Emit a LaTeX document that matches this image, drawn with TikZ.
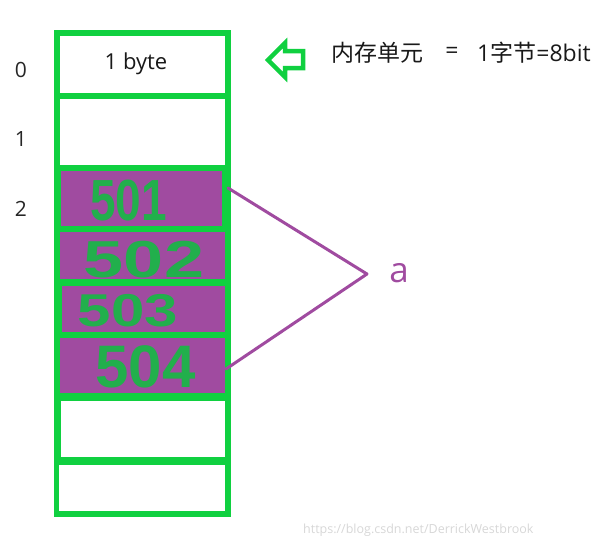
\documentclass[tikz,border=0pt]{standalone}
\usepackage{fontspec}
\setmainfont{Open Sans}
\newfontfamily\cjk{Noto Sans CJK SC}
\newfontfamily\handfont{Liberation Sans}
\definecolor{gframe}{RGB}{16,208,64}
\definecolor{pcell}{RGB}{160,75,160}
\definecolor{hgreen}{RGB}{34,175,76}
\definecolor{wmark}{RGB}{215,215,215}
\begin{document}
\begin{tikzpicture}[x=1pt,y=-1pt,
  cellw/.style={fill=white,draw=none,inner sep=0,anchor=north west},
  cellp/.style={fill=pcell,draw=none,inner sep=0,anchor=north west},
  hand/.style={text=hgreen,font=\handfont\fontsize{40}{40}\selectfont\bfseries,inner sep=0},
  idx/.style={font=\fontsize{21}{24}\selectfont,text=black!85,inner sep=0},
  head/.style={font=\fontsize{23}{26}\selectfont,text=black!90,inner sep=0},
  plink/.style={draw=pcell,line width=3pt,line join=round,line cap=round}]
\useasboundingbox (0,0) rectangle (612,546);
% frame
\fill[gframe] (54,30) rectangle (231,517);
% cells
\node[cellw,minimum width=165pt,minimum height=57pt] (c0) at (60,36) {};
\node[cellw,minimum width=165pt,minimum height=66pt] (c1) at (60,99) {};
\node[cellp,minimum width=161pt,minimum height=55pt] (c2) at (61,171) {};
\node[cellp,minimum width=165pt,minimum height=47pt] (c3) at (60,232) {};
\node[cellp,minimum width=163pt,minimum height=46pt] (c4) at (62,286) {};
\node[cellp,minimum width=165pt,minimum height=55pt] (c5) at (60,338) {};
\node[cellw,minimum width=164pt,minimum height=56pt] (c6) at (61,401) {};
\node[cellw,minimum width=166pt,minimum height=46pt] (c7) at (59,465) {};
% cell text
\node[font=\fontsize{22}{24}\selectfont,text=black!90,inner sep=0] (byte) at (136,64) {1 byte};
\node[hand,xscale=1.15,yscale=1.45] (h1) at (128.5,201) {501};
\node[hand,xscale=1.8,yscale=1.3] (h2) at (144,260) {502};
\node[hand,xscale=1.5,yscale=1.15] (h3) at (128,311) {503};
\node[hand,xscale=1.5,yscale=1.5] (h4) at (145.5,367) {504};
% indices
\node[idx] (i0) at (21,69.5) {0};
\node[idx] (i1) at (21,139.5) {1};
\node[idx] (i2) at (21,208.5) {2};
% arrow
\draw[gframe,line width=4.5pt,line join=miter] (268,60) -- (285,43) -- (285,51) -- (303,51) -- (303,68) -- (285,68) -- (285,77) -- cycle;
% heading text
\node[head,anchor=west] (head1) at (331,53) {\cjk 内存单元};
\node[head] (eq) at (452,53) {=};
\node[head,anchor=west] (head2) at (477,53) {1{\cjk 字节}=8bit};
% purple links
\coordinate (pa) at (228,188);
\coordinate (pb) at (226,369);
\coordinate (apex) at (367,274);
\draw[plink] (pa) -- (apex) -- (pb);
\node[text=pcell,font=\fontsize{35}{36}\selectfont,inner sep=0] (a) at (399,273) {a};
% watermark
\node[text=wmark,font=\fontsize{12.5}{14}\selectfont,inner sep=0,anchor=west] (wm) at (303,530) {https://blog.csdn.net/DerrickWestbrook};
\end{tikzpicture}
\end{document}
